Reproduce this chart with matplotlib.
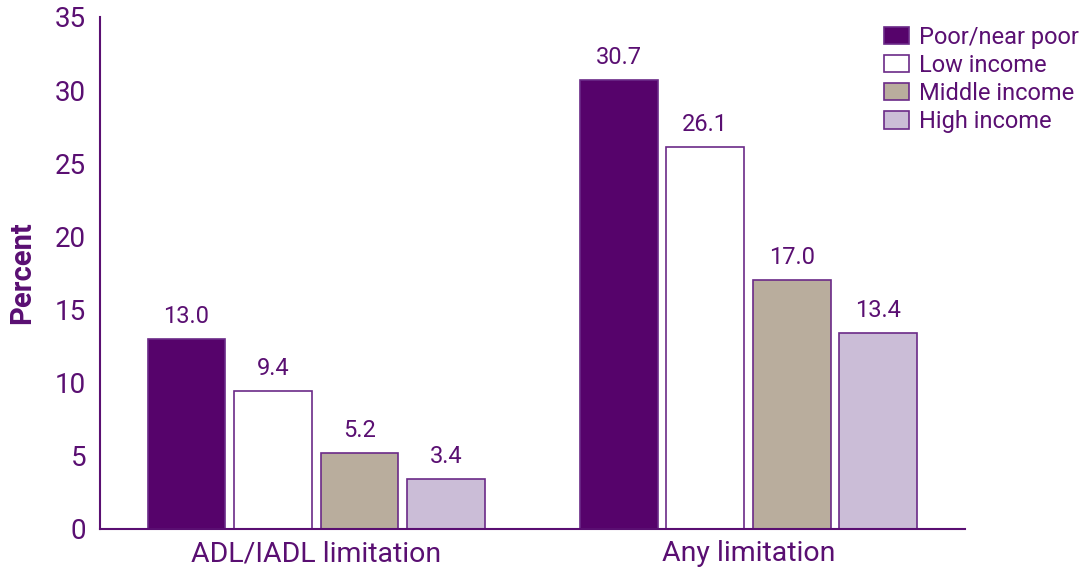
import numpy as np
import matplotlib
matplotlib.use('Agg')
import matplotlib.pyplot as plt

plt.rcParams['font.family'] = ['Roboto', 'DejaVu Sans']

# data
groups = ['ADL/IADL limitation', 'Any limitation']
series = ['Poor/near poor', 'Low income', 'Middle income', 'High income']
poor = [13.0, 30.7]
low = [9.4, 26.1]
middle = [5.2, 17.0]
high = [3.4, 13.4]
values = [poor, low, middle, high]

text_color = '#5a0f72'
edge_color = '#6b2a88'
colors = ['#56036b', '#ffffff', '#b9ad9d', '#cbbdd7']

fig = plt.figure(figsize=(10.85, 5.74), dpi=100)
ax = fig.add_axes([0.0922, 0.0784, 0.797, 0.892])

x = np.arange(len(groups))
step = 0.2
width = 0.18
for i, (name, vals) in enumerate(zip(series, values)):
    pos = x + (i - 1.5) * step
    bars = ax.bar(pos, vals, width, color=colors[i], edgecolor=edge_color,
                  linewidth=1.2, label=name)
    for b, v in zip(bars, vals):
        ax.annotate('%.1f' % v, (b.get_x() + b.get_width() / 2, v),
                    xytext=(0, 8), textcoords='offset points',
                    ha='center', va='bottom', fontsize=17, color=text_color)

ax.set_xlim(-0.5, 1.5)
ax.set_ylim(0, 35)
ax.set_yticks(range(0, 36, 5))
ax.set_xticks(x)
ax.set_xticklabels(groups, fontsize=20.5, color=text_color)
ax.tick_params(axis='x', length=0, pad=8)
ax.tick_params(axis='y', length=0, pad=10, labelsize=20, labelcolor=text_color)

for s in ['top', 'right']:
    ax.spines[s].set_visible(False)
for s in ['left', 'bottom']:
    ax.spines[s].set_color(text_color)
    ax.spines[s].set_linewidth(1.5)

ax.set_ylabel('Percent', fontsize=21, fontweight='bold', color=text_color)
ax.yaxis.set_label_coords(-0.074, 0.5)

leg = fig.legend(loc='upper left', bbox_to_anchor=(0.806, 0.972),
                 frameon=False, fontsize=17, handlelength=1.05,
                 handleheight=0.75, handletextpad=0.45, labelspacing=0.22,
                 borderaxespad=0)
for t in leg.get_texts():
    t.set_color(text_color)

fig.savefig('out.png', dpi=100)
